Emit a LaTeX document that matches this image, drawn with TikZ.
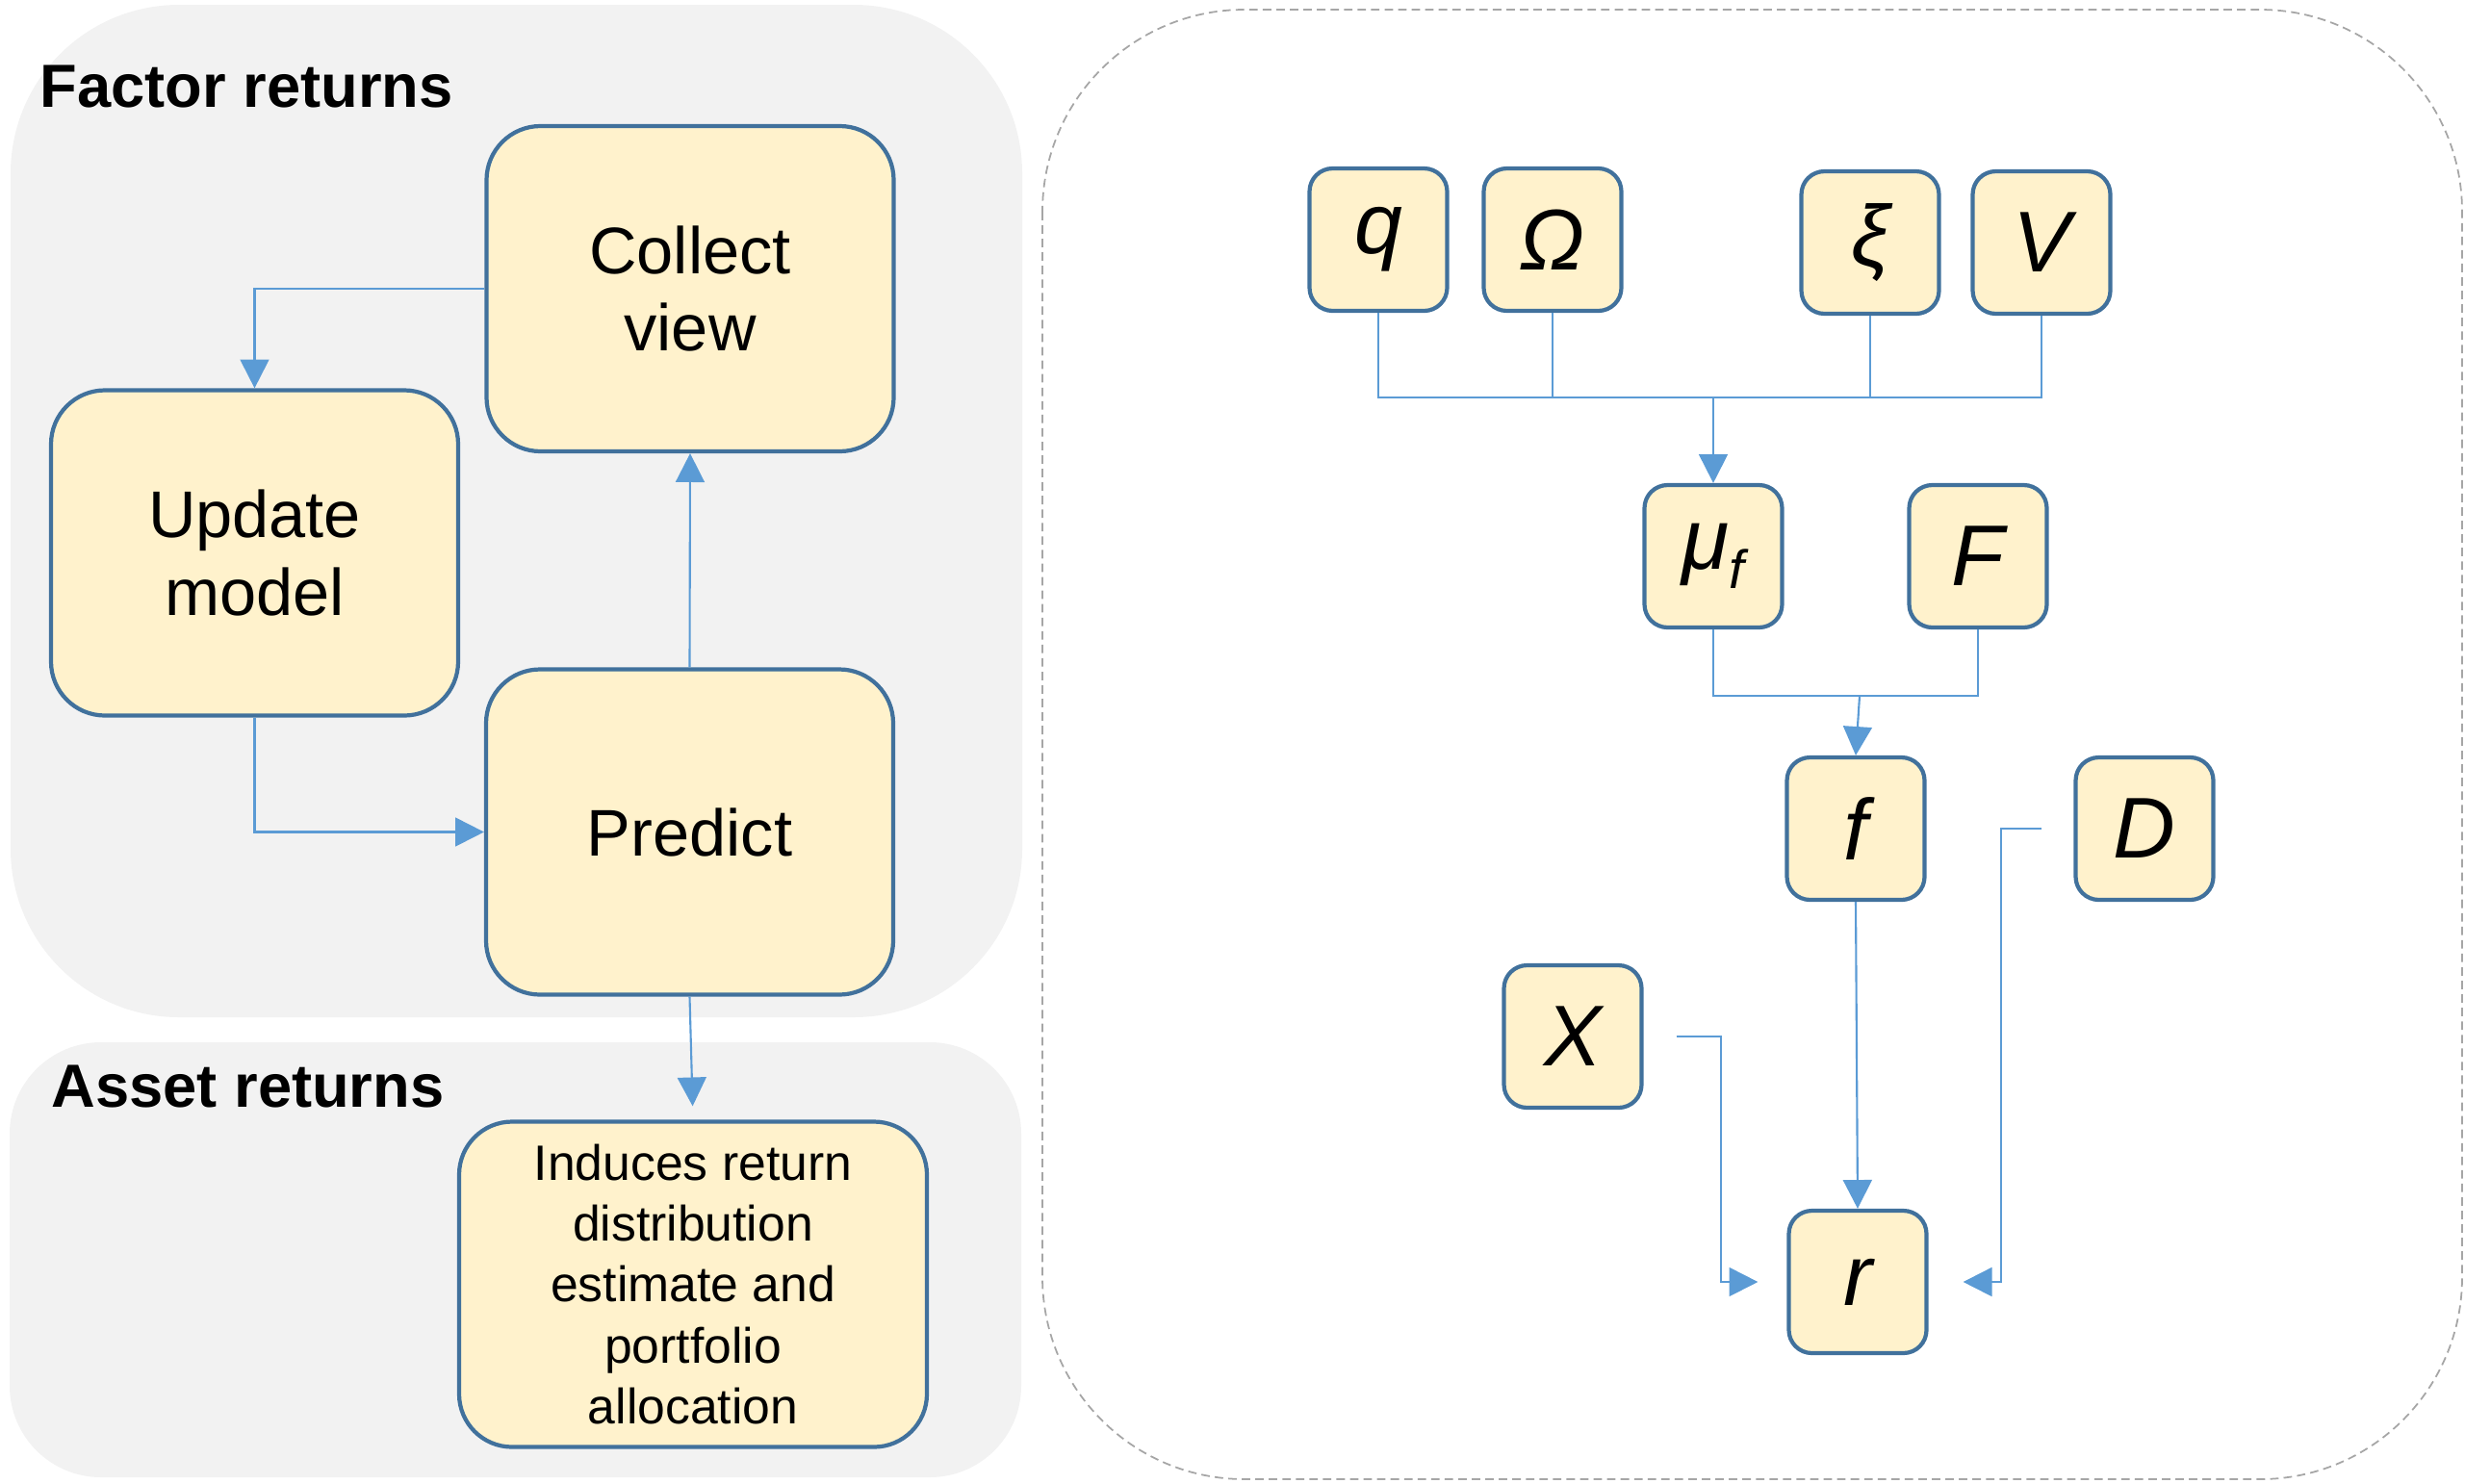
\documentclass[tikz,border=0pt]{standalone}
\usepackage{fontspec}
\setmainfont{Liberation Sans}
\usetikzlibrary{arrows.meta}
\definecolor{boxfill}{HTML}{FFF2CC}
\definecolor{boxline}{HTML}{41719C}
\definecolor{arrowblue}{HTML}{5B9BD5}
\definecolor{panelgray}{HTML}{F2F2F2}
\definecolor{dashgray}{HTML}{A6A6A6}
\begin{document}
\begin{tikzpicture}[
  bigbox/.style={draw=boxline, fill=boxfill, line width=1.2pt, rounded corners=0.56cm,
    minimum width=4.23cm, minimum height=3.38cm, align=center,
    font=\fontsize{19.5}{23}\selectfont},
  varbox/.style={draw=boxline, fill=boxfill, line width=1.2pt, rounded corners=0.24cm,
    minimum width=1.43cm, minimum height=1.48cm, inner sep=0pt,
    font=\fontsize{25.5}{30}\selectfont\itshape},
  conn/.style={draw=arrowblue, line width=0.6pt},
  arr/.style={conn, -{Triangle[length=8.5pt,width=8.5pt]}},
  paneltitle/.style={anchor=base west, inner sep=0pt, font=\fontsize{18}{22}\selectfont\bfseries}
]
\useasboundingbox (0,0) rectangle (25.61,-15.41);
% panels
\fill[panelgray, rounded corners=1.75cm] (0.11,-0.05) rectangle (10.62,-10.57);
\fill[panelgray, rounded corners=0.95cm] (0.10,-10.83) rectangle (10.61,-15.35);
\draw[dashgray, line width=0.5pt, dash pattern=on 2.5pt off 1.5pt, rounded corners=2.1cm]
  (10.83,-0.10) rectangle (25.58,-15.37);
\node[paneltitle] (factor) at (0.41,-1.11) {Factor returns};
\node[paneltitle] (asset) at (0.53,-11.50) {Asset returns};

% left side
\node[bigbox] (collect) at (7.17,-3.00) {Collect\\view};
\node[bigbox] (update) at (2.645,-5.745) {Update\\model};
\node[bigbox] (predict) at (7.165,-8.645) {Predict};
\node[bigbox, minimum width=4.86cm, rounded corners=0.55cm,
  font=\fontsize{14.7}{18}\selectfont] (induce) at (7.20,-13.345)
  {Induces return\\distribution\\estimate and\\portfolio\\allocation};

\draw[arr] (collect.west) -| (update.north);
\draw[arr] (update.south) |- (predict.west);
\draw[arr] (predict.north) -- (collect.south);
\draw[arr, shorten >=4pt] (predict.south) -- (induce.north);

% right side
\node[varbox] (q) at (14.32,-2.49) {q};
\node[varbox] (omega) at (16.13,-2.49) {Ω};
\node[varbox] (xi) at (19.43,-2.52) {ξ};
\node[varbox] (v) at (21.21,-2.52) {V};
\node[varbox] (mu) at (17.80,-5.78) {μ\raisebox{-0.22em}{\fontsize{16}{16}\selectfont f}};
\node[varbox] (bigf) at (20.55,-5.78) {F};
\node[varbox] (f) at (19.28,-8.61) {f};
\node[varbox] (d) at (22.28,-8.61) {D};
\node[varbox] (x) at (16.34,-10.77) {X};
\node[varbox] (r) at (19.30,-13.32) {r};

\coordinate (bus1) at (17.80,-4.13);
\coordinate (bus2) at (19.32,-7.23);
\draw[conn] (q.south) |- (bus1);
\draw[conn] (omega.south) |- (bus1);
\draw[conn] (xi.south) |- (bus1);
\draw[conn] (v.south) |- (bus1);
\draw[arr] (bus1) -- (mu.north);
\draw[conn] (mu.south) |- (bus2);
\draw[conn] (bigf.south) |- (bus2);
\draw[arr] (bus2) -- (f.north);
\draw[arr] (f.south) -- (r.north);
\draw[arr] ([xshift=0.34cm]x.east) -- ++(0.46,0) |- ([xshift=-0.30cm]r.west);
\draw[arr] ([xshift=-0.33cm]d.west) -- ++(-0.42,0) |- ([xshift=0.36cm]r.east);
\end{tikzpicture}
\end{document}
